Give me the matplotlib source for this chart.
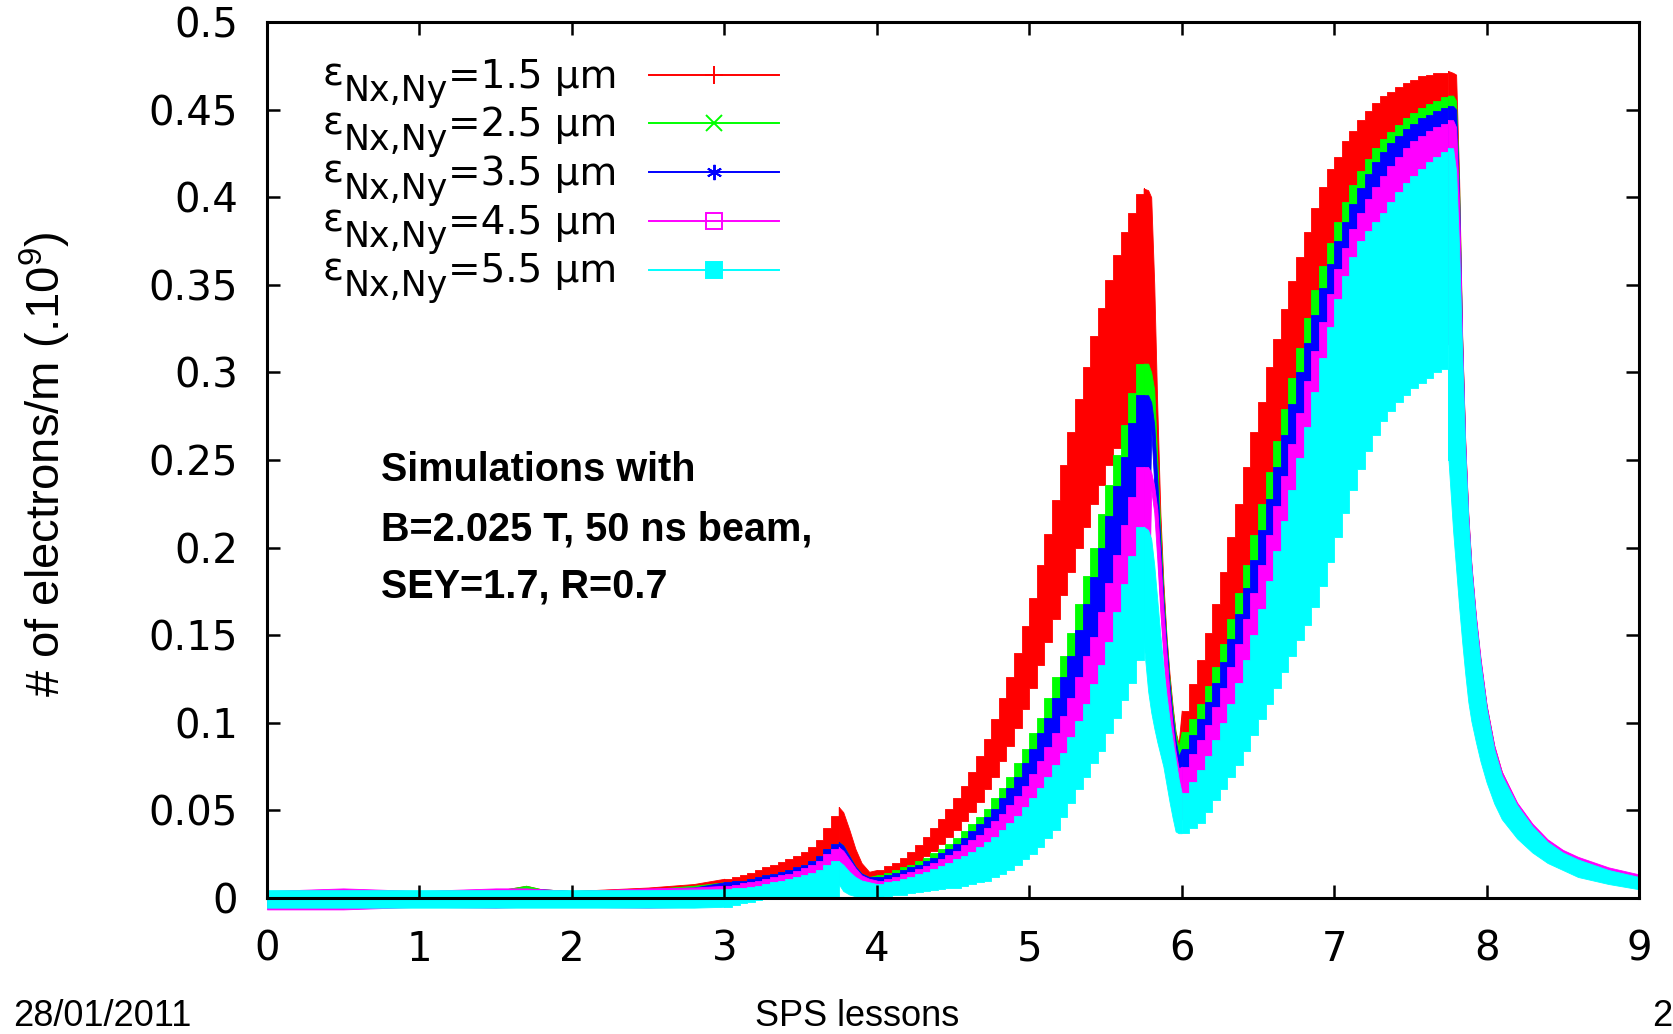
import numpy as np
import matplotlib
matplotlib.use("Agg")
import matplotlib.pyplot as plt
from matplotlib.ticker import FuncFormatter

plt.rcParams["font.family"] = "DejaVu Sans"

# sample times [us]: one sample per bunch (50 ns) along the trains,
# closer samples where the cloud decays after a batch
t = np.round(np.concatenate([
    [0.0, 0.5, 1.0, 1.5, 1.7, 1.8, 2.0, 2.5, 2.8],
    np.arange(3.0, 3.71, 0.05),
    [3.75, 3.78, 3.82, 3.86, 3.90, 3.95],
    np.arange(4.0, 5.71, 0.05),
    [5.75, 5.78, 5.80, 5.82, 5.84, 5.86, 5.88, 5.90, 5.92, 5.94, 5.96, 5.98],
    np.arange(6.0, 7.71, 0.05),
    [7.75, 7.78, 7.80, 7.82, 7.84, 7.86, 7.88, 7.90, 7.93, 7.96,
     8.00, 8.05, 8.10, 8.20, 8.30, 8.40, 8.50, 8.60, 8.80, 9.00],
]), 2)

emittances = ["1.5", "2.5", "3.5", "4.5", "5.5"]
colors = ["#ff0000", "#00ff00", "#0000ff", "#ff00ff", "#00ffff"]
markers = ["+", "x", (6, 2, 0), "s", "s"]

# upper / lower envelope of the electron line density (1e9 e-/m)
red_hi = [
    0.004, 0.004, 0.004, 0.004, 0.007, 0.005, 0.004, 0.006, 0.008,
    0.011, 0.012, 0.013, 0.0145, 0.016, 0.0175, 0.019, 0.0205, 0.022, 0.024, 0.026, 0.029, 0.033, 0.040, 0.047,
    0.052, 0.049, 0.039, 0.028, 0.020, 0.015,
    0.016, 0.018, 0.020, 0.023, 0.026, 0.030, 0.035, 0.040, 0.045, 0.051,
    0.057, 0.064, 0.072, 0.081, 0.091, 0.102, 0.114, 0.126, 0.140, 0.155,
    0.171, 0.190, 0.208, 0.227, 0.247, 0.266, 0.285, 0.303, 0.321, 0.337,
    0.353, 0.367, 0.380, 0.391, 0.402,
    0.405, 0.404, 0.400, 0.350, 0.280, 0.220, 0.180, 0.150, 0.128, 0.110, 0.095, 0.088,
    0.107, 0.122, 0.136, 0.151, 0.168, 0.186, 0.206, 0.225, 0.246, 0.266,
    0.283, 0.303, 0.319, 0.336, 0.352, 0.366, 0.380, 0.394, 0.406, 0.416,
    0.423, 0.432, 0.438, 0.444, 0.449, 0.454, 0.458, 0.460, 0.463, 0.465,
    0.467, 0.469, 0.470, 0.471, 0.471,
    0.472, 0.471, 0.470, 0.410, 0.320, 0.260, 0.218, 0.190, 0.160, 0.136,
    0.110, 0.087, 0.072, 0.054, 0.042, 0.033, 0.027, 0.023, 0.017, 0.0125,
]
red_lo = [
    -0.004, -0.004, -0.004, -0.004, -0.003, -0.003, -0.004, -0.003, -0.002,
    0.005, 0.0055, 0.006, 0.007, 0.008, 0.009, 0.010, 0.011, 0.012, 0.0135, 0.015, 0.017, 0.019, 0.023, 0.027,
    0.030, 0.029, 0.023, 0.017, 0.013, 0.011,
    0.011, 0.012, 0.014, 0.016, 0.018, 0.021, 0.024, 0.027, 0.031, 0.035,
    0.039, 0.044, 0.049, 0.055, 0.062, 0.069, 0.078, 0.087, 0.097, 0.108,
    0.120, 0.133, 0.146, 0.159, 0.173, 0.186, 0.200, 0.212, 0.225, 0.236,
    0.247, 0.257, 0.266, 0.274, 0.281,
    0.285, 0.290, 0.300, 0.278, 0.218, 0.178, 0.148, 0.126, 0.108, 0.093, 0.086, 0.082,
    0.085, 0.092, 0.100, 0.109, 0.119, 0.130, 0.143, 0.157, 0.171, 0.186,
    0.202, 0.219, 0.235, 0.251, 0.267, 0.283, 0.298, 0.312, 0.325, 0.337,
    0.347, 0.357, 0.366, 0.373, 0.380, 0.385, 0.390, 0.393, 0.397, 0.400,
    0.403, 0.406, 0.408, 0.410, 0.411,
    0.411, 0.420, 0.430, 0.360, 0.280, 0.235, 0.200, 0.175, 0.148, 0.126,
    0.100, 0.080, 0.066, 0.050, 0.039, 0.031, 0.025, 0.021, 0.015, 0.011,
]

green_hi = [
    0.004, 0.004, 0.004, 0.004, 0.007, 0.005, 0.004, 0.005, 0.007,
    0.009, 0.0095, 0.010, 0.011, 0.012, 0.013, 0.014, 0.015, 0.016, 0.0175, 0.019, 0.021, 0.024, 0.028, 0.031,
    0.032, 0.030, 0.024, 0.018, 0.014, 0.012,
    0.013, 0.0145, 0.016, 0.0175, 0.019, 0.021, 0.023, 0.0255, 0.028, 0.031,
    0.034, 0.038, 0.042, 0.046, 0.051, 0.057, 0.063, 0.069, 0.077, 0.085,
    0.094, 0.103, 0.114, 0.126, 0.138, 0.151, 0.168, 0.184, 0.200, 0.219,
    0.236, 0.253, 0.270, 0.288, 0.305,
    0.305, 0.305, 0.300, 0.290, 0.250, 0.210, 0.175, 0.148, 0.125, 0.108, 0.094, 0.086,
    0.095, 0.102, 0.111, 0.121, 0.132, 0.145, 0.159, 0.174, 0.190, 0.207,
    0.225, 0.243, 0.261, 0.279, 0.297, 0.314, 0.331, 0.347, 0.361, 0.374,
    0.386, 0.397, 0.407, 0.415, 0.422, 0.428, 0.433, 0.437, 0.441, 0.445,
    0.448, 0.451, 0.453, 0.455, 0.457,
    0.458, 0.458, 0.455, 0.405, 0.318, 0.258, 0.217, 0.189, 0.159, 0.135,
    0.109, 0.086, 0.071, 0.053, 0.041, 0.032, 0.026, 0.022, 0.016, 0.012,
]
green_lo = [
    -0.004, -0.004, -0.004, -0.004, -0.003, -0.003, -0.004, -0.003, -0.002,
    0.000, 0.0005, 0.001, 0.0015, 0.002, 0.0025, 0.003, 0.0035, 0.004, 0.005, 0.006, 0.007, 0.008, 0.010, 0.012,
    0.014, 0.020, 0.016, 0.012, 0.010, 0.009,
    0.005, 0.005, 0.006, 0.007, 0.007, 0.008, 0.009, 0.010, 0.011, 0.012,
    0.013, 0.015, 0.016, 0.018, 0.020, 0.023, 0.026, 0.029, 0.032, 0.036,
    0.041, 0.046, 0.051, 0.057, 0.064, 0.071, 0.079, 0.088, 0.097, 0.107,
    0.117, 0.128, 0.140, 0.152, 0.165,
    0.170, 0.170, 0.285, 0.248, 0.208, 0.173, 0.146, 0.123, 0.106, 0.092, 0.084, 0.080,
    0.055, 0.058, 0.062, 0.068, 0.075, 0.083, 0.091, 0.100, 0.110, 0.120,
    0.131, 0.142, 0.153, 0.164, 0.175, 0.186, 0.197, 0.208, 0.220, 0.233,
    0.246, 0.259, 0.271, 0.282, 0.292, 0.300, 0.307, 0.313, 0.318, 0.322,
    0.326, 0.329, 0.332, 0.335, 0.337,
    0.330, 0.330, 0.420, 0.355, 0.278, 0.233, 0.198, 0.173, 0.146, 0.124,
    0.099, 0.079, 0.065, 0.049, 0.038, 0.030, 0.024, 0.020, 0.014, 0.010,
]

blue_hi = [
    0.004, 0.004, 0.004, 0.004, 0.005, 0.005, 0.004, 0.005, 0.006,
    0.009, 0.0095, 0.010, 0.011, 0.012, 0.013, 0.014, 0.015, 0.016, 0.0175, 0.019, 0.021, 0.024, 0.028, 0.031,
    0.032, 0.030, 0.024, 0.018, 0.014, 0.012,
    0.012, 0.013, 0.0145, 0.016, 0.0175, 0.019, 0.021, 0.023, 0.0255, 0.028,
    0.031, 0.034, 0.038, 0.042, 0.046, 0.051, 0.057, 0.063, 0.069, 0.077,
    0.085, 0.094, 0.103, 0.114, 0.126, 0.138, 0.153, 0.168, 0.183, 0.200,
    0.218, 0.235, 0.252, 0.271, 0.287,
    0.287, 0.287, 0.283, 0.270, 0.238, 0.203, 0.170, 0.145, 0.122, 0.104, 0.090, 0.081,
    0.085, 0.093, 0.102, 0.112, 0.123, 0.135, 0.148, 0.162, 0.177, 0.193,
    0.210, 0.228, 0.246, 0.264, 0.282, 0.300, 0.317, 0.333, 0.348, 0.362,
    0.375, 0.386, 0.396, 0.405, 0.413, 0.420, 0.426, 0.431, 0.435, 0.439,
    0.442, 0.445, 0.447, 0.449, 0.451,
    0.452, 0.452, 0.450, 0.400, 0.316, 0.257, 0.216, 0.189, 0.159, 0.135,
    0.109, 0.086, 0.071, 0.053, 0.041, 0.032, 0.026, 0.022, 0.016, 0.012,
]
blue_lo = [
    -0.004, -0.004, -0.004, -0.004, -0.003, -0.003, -0.004, -0.003, -0.002,
    0.000, 0.0005, 0.001, 0.0015, 0.002, 0.0025, 0.003, 0.0035, 0.004, 0.005, 0.006, 0.007, 0.008, 0.010, 0.012,
    0.014, 0.020, 0.016, 0.012, 0.010, 0.009,
    0.004, 0.005, 0.005, 0.006, 0.007, 0.007, 0.008, 0.009, 0.010, 0.011,
    0.012, 0.013, 0.015, 0.017, 0.019, 0.021, 0.024, 0.027, 0.030, 0.034,
    0.038, 0.043, 0.048, 0.054, 0.060, 0.067, 0.075, 0.083, 0.092, 0.101,
    0.111, 0.122, 0.133, 0.145, 0.158,
    0.165, 0.165, 0.268, 0.236, 0.201, 0.168, 0.143, 0.120, 0.102, 0.088, 0.079, 0.075,
    0.050, 0.053, 0.057, 0.063, 0.070, 0.078, 0.086, 0.095, 0.104, 0.114,
    0.124, 0.135, 0.146, 0.157, 0.168, 0.179, 0.190, 0.201, 0.212, 0.225,
    0.238, 0.251, 0.263, 0.274, 0.284, 0.292, 0.299, 0.305, 0.310, 0.314,
    0.318, 0.321, 0.324, 0.327, 0.329,
    0.330, 0.330, 0.415, 0.350, 0.276, 0.232, 0.197, 0.172, 0.145, 0.123,
    0.098, 0.078, 0.064, 0.048, 0.037, 0.029, 0.023, 0.019, 0.013, 0.009,
]

magenta_hi = [
    0.004, 0.0055, 0.004, 0.0055, 0.0055, 0.005, 0.004, 0.0055, 0.006,
    0.007, 0.0075, 0.0085, 0.009, 0.010, 0.011, 0.012, 0.013, 0.014, 0.0155, 0.017, 0.019, 0.021, 0.025, 0.028,
    0.029, 0.027, 0.022, 0.017, 0.013, 0.011,
    0.010, 0.011, 0.012, 0.0135, 0.015, 0.0165, 0.018, 0.020, 0.022, 0.0245,
    0.027, 0.030, 0.033, 0.036, 0.040, 0.044, 0.048, 0.053, 0.058, 0.064,
    0.071, 0.078, 0.086, 0.094, 0.104, 0.114, 0.126, 0.138, 0.149, 0.163,
    0.180, 0.196, 0.213, 0.229, 0.246,
    0.246, 0.246, 0.243, 0.235, 0.222, 0.195, 0.165, 0.140, 0.117, 0.099, 0.084, 0.074,
    0.075, 0.082, 0.090, 0.099, 0.109, 0.120, 0.132, 0.145, 0.159, 0.174,
    0.190, 0.207, 0.224, 0.241, 0.259, 0.277, 0.295, 0.312, 0.329, 0.345,
    0.359, 0.371, 0.382, 0.391, 0.399, 0.406, 0.412, 0.418, 0.423, 0.428,
    0.432, 0.435, 0.438, 0.440, 0.442,
    0.444, 0.444, 0.440, 0.395, 0.318, 0.260, 0.219, 0.191, 0.161, 0.137,
    0.110, 0.087, 0.072, 0.0545, 0.0425, 0.0335, 0.0275, 0.0235, 0.0175, 0.0135,
]
magenta_lo = [
    -0.0065, -0.0065, -0.005, -0.0055, -0.005, -0.005, -0.005, -0.0055, -0.005,
    -0.003, -0.002, -0.001, 0.000, 0.0005, 0.001, 0.0015, 0.002, 0.0025, 0.003, 0.0035, 0.004, 0.005, 0.006, 0.008,
    0.010, 0.016, 0.013, 0.010, 0.008, 0.007,
    0.003, 0.004, 0.004, 0.005, 0.006, 0.006, 0.007, 0.008, 0.009, 0.010,
    0.011, 0.012, 0.013, 0.015, 0.017, 0.019, 0.021, 0.024, 0.027, 0.031,
    0.035, 0.039, 0.044, 0.049, 0.055, 0.062, 0.070, 0.078, 0.086, 0.094,
    0.104, 0.114, 0.125, 0.136, 0.148,
    0.150, 0.150, 0.233, 0.220, 0.193, 0.163, 0.138, 0.115, 0.097, 0.082, 0.072, 0.067,
    0.045, 0.048, 0.052, 0.058, 0.065, 0.072, 0.080, 0.088, 0.097, 0.107,
    0.117, 0.127, 0.137, 0.147, 0.157, 0.167, 0.177, 0.188, 0.199, 0.212,
    0.225, 0.238, 0.250, 0.261, 0.271, 0.279, 0.286, 0.292, 0.297, 0.301,
    0.305, 0.308, 0.311, 0.314, 0.316,
    0.316, 0.316, 0.410, 0.345, 0.275, 0.231, 0.196, 0.171, 0.144, 0.122,
    0.097, 0.077, 0.063, 0.047, 0.036, 0.028, 0.022, 0.018, 0.012, 0.008,
]

cyan_hi = [
    0.0045, 0.0045, 0.0045, 0.0045, 0.0045, 0.0045, 0.0045, 0.0045, 0.0048,
    0.005, 0.0055, 0.006, 0.0065, 0.007, 0.008, 0.009, 0.010, 0.011, 0.012, 0.013, 0.0145, 0.016, 0.019, 0.021,
    0.021, 0.019, 0.015, 0.012, 0.010, 0.009,
    0.008, 0.009, 0.010, 0.011, 0.012, 0.0135, 0.015, 0.0165, 0.018, 0.020,
    0.022, 0.024, 0.0265, 0.029, 0.032, 0.035, 0.039, 0.043, 0.047, 0.052,
    0.057, 0.063, 0.069, 0.076, 0.083, 0.092, 0.101, 0.111, 0.122, 0.133,
    0.146, 0.163, 0.179, 0.195, 0.212,
    0.212, 0.210, 0.205, 0.190, 0.170, 0.150, 0.132, 0.116, 0.102, 0.090, 0.079, 0.068,
    0.060, 0.066, 0.073, 0.081, 0.090, 0.100, 0.111, 0.123, 0.136, 0.150,
    0.165, 0.181, 0.198, 0.215, 0.233, 0.251, 0.269, 0.289, 0.308, 0.326,
    0.342, 0.355, 0.366, 0.375, 0.381, 0.386, 0.391, 0.397, 0.403, 0.408,
    0.412, 0.416, 0.420, 0.423, 0.426,
    0.428, 0.428, 0.415, 0.370, 0.310, 0.255, 0.215, 0.188, 0.158, 0.134,
    0.108, 0.085, 0.070, 0.053, 0.041, 0.032, 0.026, 0.022, 0.016, 0.012,
]
cyan_lo = [
    -0.0055, -0.0055, -0.0055, -0.0055, -0.0055, -0.0055, -0.0055, -0.0055, -0.0055,
    -0.005, -0.004, -0.003, -0.002, -0.001, 0.000, 0.000, 0.000, 0.000, 0.000, 0.000, 0.000, 0.000, 0.000, 0.000,
    0.008, 0.004, 0.002, 0.001, 0.000, 0.000,
    0.000, 0.001, 0.0015, 0.002, 0.003, 0.0035, 0.004, 0.0045, 0.005, 0.0055,
    0.006, 0.007, 0.008, 0.009, 0.010, 0.012, 0.014, 0.016, 0.019, 0.022,
    0.025, 0.029, 0.034, 0.039, 0.046, 0.054, 0.062, 0.069, 0.077, 0.084,
    0.094, 0.103, 0.113, 0.123, 0.136,
    0.146, 0.118, 0.106, 0.097, 0.089, 0.082, 0.075, 0.065, 0.055, 0.046, 0.038, 0.037,
    0.037, 0.040, 0.043, 0.049, 0.056, 0.062, 0.069, 0.076, 0.084, 0.093,
    0.102, 0.111, 0.120, 0.129, 0.138, 0.147, 0.156, 0.166, 0.178, 0.192,
    0.206, 0.220, 0.233, 0.245, 0.255, 0.264, 0.272, 0.278, 0.283, 0.287,
    0.291, 0.294, 0.297, 0.300, 0.302,
    0.250, 0.210, 0.188, 0.166, 0.146, 0.128, 0.112, 0.101, 0.089, 0.078,
    0.066, 0.054, 0.045, 0.034, 0.026, 0.020, 0.016, 0.012, 0.008, 0.005,
]

highs = [red_hi, green_hi, blue_hi, magenta_hi, cyan_hi]
lows = [red_lo, green_lo, blue_lo, magenta_lo, cyan_lo]

# bunch trains are drawn bunch by bunch, the gaps between batches as smooth decays
pieces = [(0.0, 3.0, None), (3.0, 3.75, "post"), (3.75, 4.0, None),
          (4.0, 5.75, "post"), (5.75, 6.0, None), (6.0, 7.75, "post"),
          (7.75, 9.0, None)]

fig = plt.figure(figsize=(16.73, 10.34), dpi=100)
ax = fig.add_axes([0.1596, 0.1315, 0.8201, 0.8472])

for color, lo, hi in zip(colors, lows, highs):
    lo = np.asarray(lo)
    hi = np.asarray(hi)
    for a, b, step in pieces:
        m = (t >= a - 1e-9) & (t <= b + 1e-9)
        ax.fill_between(t[m], lo[m], hi[m], step=step, color=color,
                        lw=0.6, clip_on=False, zorder=1)

ax.set_xlim(0, 9)
ax.set_ylim(0, 0.5)
ax.set_xticks(range(10))
ax.set_yticks(np.arange(0, 0.51, 0.05))
ax.yaxis.set_major_formatter(FuncFormatter(lambda v, p: f"{v:g}"))
ax.tick_params(direction="in", length=9.4, width=1.8, top=True, right=True,
               labelsize=29)
ax.tick_params(axis="x", pad=23)
ax.tick_params(axis="y", pad=21)
for s in ax.spines.values():
    s.set_linewidth(2.2)
    s.set_zorder(3)

ax.set_ylabel("# of electrons/m (.10$^{\\mathregular{9}}$)", family="Liberation Sans",
              fontsize=34, va="center")
ax.yaxis.set_label_coords(-0.1618, 0.4954)

# key in the upper left corner, text right-aligned in front of the sample
for k, (emit, color, marker) in enumerate(zip(emittances, colors, markers)):
    y_line = 0.9398 - 0.0556 * k
    y_base = 0.9252 - 0.0556 * k
    val = ax.text(0.2551, y_base, f"={emit} μm", transform=ax.transAxes,
                  ha="right", va="baseline", fontsize=28)
    sub = ax.annotate("Nx,Ny", xy=(0, 0), xycoords=val, xytext=(0, -5.8),
                      textcoords="offset pixels", ha="right", va="baseline",
                      fontsize=25)
    ax.annotate("ε", xy=(0, 0), xycoords=sub, xytext=(0, 23),
                textcoords="offset pixels", ha="right", va="baseline",
                fontsize=28)
    ax.plot([0.2784, 0.3258, 0.3732], [y_line] * 3, transform=ax.transAxes,
            color=color, lw=1.4, marker=marker, markevery=[1],
            ms=13 if marker == "+" else 11, mew=1.4,
            mfc="none" if k == 3 else color, clip_on=False)

notes = ["Simulations with", "B=2.025 T, 50 ns beam,", "SEY=1.7, R=0.7"]
for y, line in zip([0.476, 0.4087, 0.3436], notes):
    ax.text(0.0831, y, line, transform=ax.transAxes, va="baseline",
            family="Liberation Sans", weight="bold", fontsize=28.5)

foot = dict(family="Liberation Sans", fontsize=26, va="baseline")
fig.text(13 / 1673, 8 / 1034, "28/01/2011", **foot)
fig.text(857 / 1673, 8 / 1034, "SPS lessons", ha="center", **foot)
fig.text(1652 / 1673, 8 / 1034, "2", **foot)

fig.savefig("out.png", dpi=100)
